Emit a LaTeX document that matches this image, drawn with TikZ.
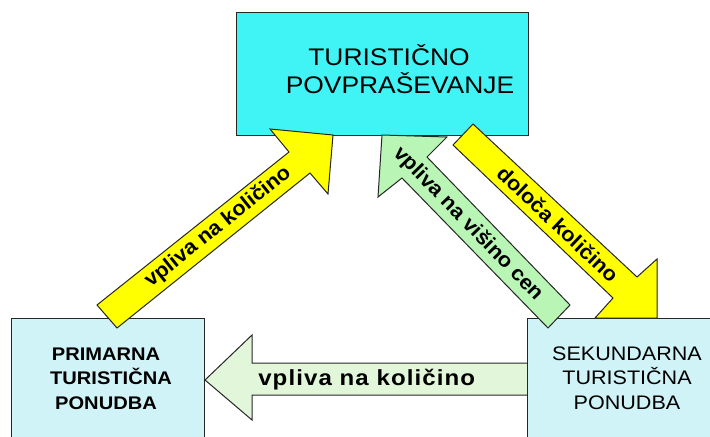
\documentclass[tikz,border=0pt]{standalone}
\usepackage{fontspec}
\setmainfont{Liberation Sans}
\newfontfamily\hfont{Liberation Sans}[FakeStretch=1.1]
\newfontfamily\hsfont{Liberation Sans}[FakeStretch=1.1,LetterSpace=5]
\newfontfamily\dfont{Liberation Sans}[FakeStretch=1.05]
\definecolor{topcyan}{RGB}{64,244,246}
\definecolor{boxcyan}{RGB}{208,243,248}
\definecolor{dgreen}{RGB}{185,245,180}
\definecolor{hgreen}{RGB}{226,247,218}
\definecolor{ylw}{RGB}{255,255,0}
\begin{document}
\begin{tikzpicture}[x=0.75pt,y=-0.75pt,
  boxline/.style={draw=black!85,line width=0.75pt},
  blockarrow/.style={draw=black!85,line width=0.75pt,line join=miter},
  toptext/.style={font=\hfont\fontsize{18}{21}\selectfont,anchor=base,inner sep=0pt},
  primtext/.style={font=\hfont\bfseries\fontsize{13.7}{16}\selectfont,anchor=base,inner sep=0pt},
  sektext/.style={font=\hfont\fontsize{14.7}{17}\selectfont,anchor=base,inner sep=0pt},
  harrowtext/.style={font=\hsfont\bfseries\fontsize{16.4}{19}\selectfont,anchor=base west,inner sep=0pt},
  darrowtext/.style={font=\dfont\bfseries\fontsize{15.5}{18}\selectfont,inner sep=0pt}]
\useasboundingbox (0,0) rectangle (710,436);

% horizontal arrow (under the right box)
\draw[blockarrow,fill=hgreen] (205,380) -- (252,335) -- (252,363) -- (530,363) -- (530,395) -- (252,395) -- (252,420) -- cycle;
\node[harrowtext] (hlab) at (258,385) {vpliva na količino};

% boxes
\draw[boxline,fill=topcyan] (236,12) rectangle (528,135);
\draw[boxline,fill=boxcyan] (11,318) rectangle (204,440);
\draw[boxline,fill=boxcyan] (527,318) rectangle (714,440);

\node[toptext] (t1) at (389,65) {TURISTIČNO};
\node[toptext] (t2) at (400,93.3) {POVPRAŠEVANJE};

\node[primtext] (p1) at (106,360) {PRIMARNA};
\node[primtext] (p2) at (111,384) {TURISTIČNA};
\node[primtext] (p3) at (106,409) {PONUDBA};

\node[sektext] (s1) at (627,360) {SEKUNDARNA};
\node[sektext] (s2) at (627,384) {TURISTIČNA};
\node[sektext] (s3) at (627,409) {PONUDBA};

% left yellow arrow
\draw[blockarrow,fill=ylw] (97,305) -- (289,152) -- (270,129) -- (333,135) -- (328,194) -- (310,173) -- (117,328) -- cycle;
\node[darrowtext,rotate=38.7] (ylab) at (218,227) {vpliva na količino};

% green diagonal arrow
\draw[blockarrow,fill=dgreen] (382,135) -- (447,137) -- (427,157) -- (570,305) -- (548,328) -- (402,178) -- (378,197) -- cycle;
\node[darrowtext,rotate=-45.9] (glab) at (468,224) {vpliva na višino cen};

% right yellow arrow
\draw[blockarrow,fill=ylw] (473,124) -- (637,277) -- (657,259) -- (657,318) -- (595,318) -- (613,298) -- (453,145) -- cycle;
\node[darrowtext,rotate=-43.4] (rlab) at (558,224) {določa količino};
\end{tikzpicture}
\end{document}
